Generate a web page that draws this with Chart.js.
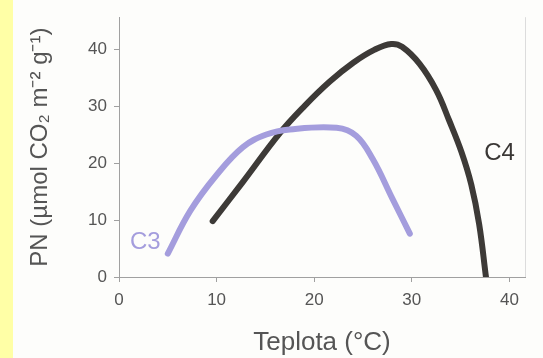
<!DOCTYPE html>
<html>
<head>
<meta charset="utf-8">
<script src="https://cdn.jsdelivr.net/npm/chart.js@4/dist/chart.umd.min.js"></script>
<style>
    html, body {
        margin: 0;
        padding: 0;
    }
    body {
        width: 543px;
        height: 358px;
        background: linear-gradient(to right, #ffffa6 0, #ffffa6 13px, #fdfdfb 13px);
    }
    #wrap {
        position: relative;
        width: 543px;
        height: 358px;
    }
</style>
</head>
<body>
<div id="wrap">
    <canvas id="chart" width="543" height="358"></canvas>
</div>
<script>
    // values (temperature °C, PN)
    const c3Temp = [5.0, 7.3, 10.0, 12.7, 15.1, 17.5, 22.3, 24.3, 26.0, 28.0, 29.8];
    const c3Pn = [4.1, 11.6, 17.9, 22.8, 25.0, 25.9, 26.2, 24.8, 20.7, 13.8, 7.6];

    const c4Temp = [9.6, 12.7, 16.5, 19.0, 21.6, 24.0, 26.2, 27.9, 29.0, 30.8, 32.5, 33.8, 35.1, 36.1, 36.9, 37.6];
    const c4Pn = [9.8, 16.7, 25.3, 30.0, 34.3, 37.6, 39.9, 40.9, 40.4, 37.4, 32.8, 27.6, 21.9, 16.2, 9.3, 0];

    const curveLabels = ['C3', 'C4'];
    const labelTemp = [2.7, 39.0];
    const labelPn = [6.0, 21.7];

    const axisColor = '#a0a0a0';
    const textColor = '#555555';
    const labelColors = ['#a49ddd', '#3a3735'];
    const fontFamily = '"Liberation Sans", Arial, sans-serif';

    function toPoints(xs, ys) {
        return xs.map((x, i) => ({x: x, y: ys[i]}));
    }

    // curve labels and the faint right frame line
    const extras = {
        id: 'extras',
        afterDatasetsDraw(chart) {
            const ctx = chart.ctx;
            const xs = chart.scales.x;
            const ys = chart.scales.y;
            const area = chart.chartArea;
            ctx.save();
            ctx.strokeStyle = '#dcdcdc';
            ctx.lineWidth = 1;
            ctx.beginPath();
            ctx.moveTo(area.right + 0.5, area.top);
            ctx.lineTo(area.right + 0.5, area.bottom);
            ctx.stroke();

            ctx.font = '24px ' + fontFamily;
            ctx.textAlign = 'center';
            ctx.textBaseline = 'middle';
            curveLabels.forEach((txt, i) => {
                ctx.fillStyle = labelColors[i];
                ctx.fillText(txt, xs.getPixelForValue(labelTemp[i]), ys.getPixelForValue(labelPn[i]));
            });
            ctx.restore();
        }
    };

    new Chart(document.getElementById('chart'), {
        type: 'line',
        data: {
            datasets: [
                {
                    label: 'C3',
                    data: toPoints(c3Temp, c3Pn),
                    borderColor: '#a49ddd',
                    borderWidth: 6,
                    borderCapStyle: 'round',
                    pointRadius: 0,
                    tension: 0.4
                },
                {
                    label: 'C4',
                    data: toPoints(c4Temp, c4Pn),
                    borderColor: '#3d3a37',
                    borderWidth: 6,
                    borderCapStyle: 'round',
                    pointRadius: 0,
                    tension: 0.4
                }
            ]
        },
        options: {
            responsive: false,
            animation: false,
            devicePixelRatio: 1,
            layout: {
                padding: {top: 12, right: 18, left: 0, bottom: 0}
            },
            plugins: {
                legend: {display: false},
                tooltip: {enabled: false}
            },
            scales: {
                x: {
                    type: 'linear',
                    min: 0,
                    max: 41.6,
                    border: {color: axisColor, width: 1},
                    grid: {drawOnChartArea: false, tickLength: 5, color: axisColor},
                    ticks: {
                        stepSize: 10,
                        includeBounds: false,
                        padding: 8,
                        color: textColor,
                        font: {family: fontFamily, size: 17}
                    },
                    title: {
                        display: true,
                        text: 'Teplota (°C)',
                        color: textColor,
                        padding: {top: 0, bottom: 0},
                        font: {family: fontFamily, size: 26}
                    },
                    afterFit(scale) {
                        scale.height = 81;
                    }
                },
                y: {
                    min: 0,
                    max: 45.6,
                    border: {color: axisColor, width: 1},
                    grid: {drawOnChartArea: false, tickLength: 5, color: axisColor},
                    ticks: {
                        stepSize: 10,
                        includeBounds: false,
                        padding: 7,
                        color: textColor,
                        font: {family: fontFamily, size: 17}
                    },
                    title: {
                        display: true,
                        text: 'PN (µmol CO₂ m⁻² g⁻¹)',
                        color: textColor,
                        padding: {top: 26, bottom: 0},
                        font: {family: fontFamily, size: 24}
                    },
                    afterFit(scale) {
                        scale.width = 119;
                    }
                }
            }
        },
        plugins: [extras]
    });
</script>
</body>
</html>
